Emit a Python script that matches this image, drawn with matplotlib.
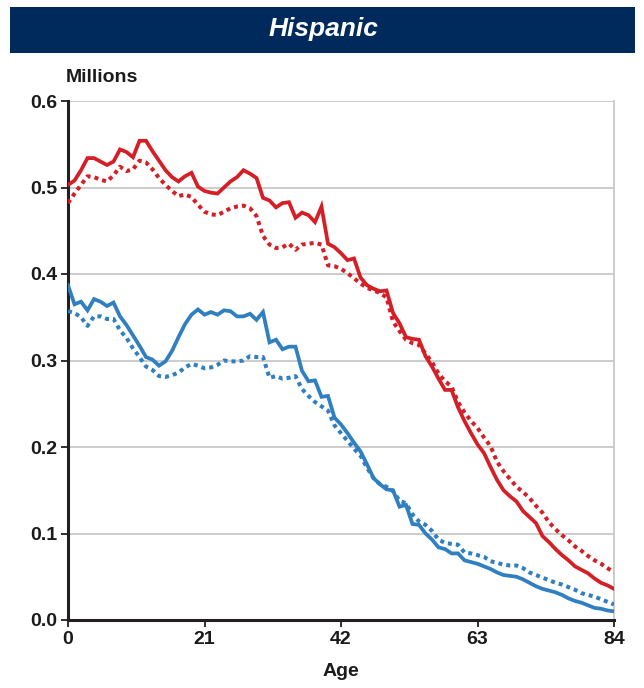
import matplotlib
matplotlib.use("Agg")
import matplotlib.pyplot as plt
from matplotlib.patches import Rectangle

ages = list(range(0, 85))

red_solid = [0.503, 0.508, 0.520, 0.534, 0.534, 0.530, 0.526, 0.530, 0.544, 0.541,
             0.535, 0.554, 0.554, 0.542, 0.531, 0.520, 0.512, 0.507, 0.513, 0.517,
             0.501, 0.496, 0.494, 0.493, 0.500, 0.507, 0.512, 0.520, 0.516, 0.511,
             0.488, 0.485, 0.477, 0.482, 0.483, 0.465, 0.471, 0.468, 0.460, 0.478,
             0.435, 0.431, 0.424, 0.416, 0.418, 0.396, 0.387, 0.383, 0.380, 0.381,
             0.355, 0.343, 0.327, 0.325, 0.324, 0.305, 0.293, 0.279, 0.266, 0.266,
             0.246, 0.230, 0.216, 0.203, 0.193, 0.177, 0.162, 0.150, 0.143, 0.137,
             0.126, 0.119, 0.112, 0.097, 0.090, 0.082, 0.075, 0.069, 0.062, 0.058,
             0.054, 0.048, 0.043, 0.040, 0.036]

red_dotted = [0.482, 0.493, 0.503, 0.513, 0.512, 0.509, 0.507, 0.514, 0.524, 0.519,
              0.521, 0.531, 0.529, 0.521, 0.511, 0.503, 0.496, 0.490, 0.492, 0.489,
              0.480, 0.472, 0.469, 0.468, 0.472, 0.476, 0.478, 0.479, 0.476, 0.467,
              0.444, 0.434, 0.430, 0.431, 0.435, 0.428, 0.434, 0.435, 0.436, 0.434,
              0.410, 0.409, 0.406, 0.401, 0.395, 0.389, 0.384, 0.381, 0.378, 0.373,
              0.345, 0.334, 0.324, 0.320, 0.318, 0.308, 0.298, 0.285, 0.276, 0.270,
              0.252, 0.240, 0.230, 0.222, 0.211, 0.201, 0.183, 0.172, 0.163, 0.154,
              0.148, 0.141, 0.132, 0.124, 0.113, 0.105, 0.098, 0.092, 0.085, 0.080,
              0.074, 0.069, 0.065, 0.060, 0.055]

blue_solid = [0.387, 0.365, 0.368, 0.358, 0.371, 0.368, 0.363, 0.367, 0.351, 0.341,
              0.329, 0.317, 0.304, 0.301, 0.294, 0.299, 0.311, 0.327, 0.342, 0.353,
              0.359, 0.353, 0.356, 0.353, 0.358, 0.357, 0.351, 0.351, 0.354, 0.347,
              0.356, 0.321, 0.324, 0.313, 0.316, 0.316, 0.288, 0.276, 0.277, 0.258,
              0.259, 0.234, 0.226, 0.216, 0.205, 0.195, 0.180, 0.164, 0.157, 0.151,
              0.150, 0.131, 0.133, 0.111, 0.110, 0.100, 0.093, 0.084, 0.082, 0.077,
              0.077, 0.069, 0.067, 0.065, 0.062, 0.059, 0.055, 0.052, 0.051, 0.050,
              0.047, 0.043, 0.039, 0.036, 0.034, 0.032, 0.029, 0.025, 0.022, 0.020,
              0.017, 0.014, 0.013, 0.011, 0.010]

blue_dotted = [0.357, 0.355, 0.350, 0.340, 0.351, 0.351, 0.348, 0.348, 0.335, 0.326,
               0.314, 0.304, 0.293, 0.289, 0.282, 0.281, 0.283, 0.286, 0.292, 0.296,
               0.294, 0.291, 0.292, 0.295, 0.300, 0.299, 0.299, 0.300, 0.305, 0.304,
               0.304, 0.280, 0.282, 0.279, 0.280, 0.282, 0.267, 0.259, 0.252, 0.247,
               0.242, 0.225, 0.216, 0.207, 0.198, 0.190, 0.176, 0.164, 0.157, 0.154,
               0.149, 0.138, 0.135, 0.122, 0.114, 0.110, 0.103, 0.093, 0.089, 0.088,
               0.087, 0.078, 0.077, 0.075, 0.073, 0.068, 0.066, 0.064, 0.063, 0.063,
               0.060, 0.055, 0.052, 0.049, 0.046, 0.043, 0.041, 0.038, 0.035, 0.031,
               0.029, 0.027, 0.024, 0.021, 0.018]

x_ticks = [0, 21, 42, 63, 84]
y_ticks = [0.0, 0.1, 0.2, 0.3, 0.4, 0.5, 0.6]
title = "Hispanic"
y_label = "Millions"
x_label = "Age"

RED = "#d51f26"
BLUE = "#2f7fc1"
NAVY = "#002a5c"
AXIS = "#231f20"

plt.rcParams['font.family'] = ['Liberation Sans', 'DejaVu Sans']

fig = plt.figure(figsize=(6.44, 6.88), dpi=100)
fig.patches.append(Rectangle((10 / 644, 1 - 53 / 688), 625 / 644, 46 / 688,
                             transform=fig.transFigure, facecolor=NAVY,
                             edgecolor='none', zorder=0))
fig.text(323 / 644, 1 - 29 / 688, title, color='white', fontsize=19,
         fontweight='bold', fontstyle='italic', ha='center', va='center')

ax = fig.add_axes([68 / 644, 1 - 620 / 688, 546 / 644, 519 / 688])

ax.plot(ages, red_dotted, color=RED, lw=2.9, linestyle=(0, (1.0, 1.0)), zorder=3)
ax.plot(ages, red_solid, color=RED, lw=2.7, zorder=4, solid_joinstyle='miter')
ax.plot(ages, blue_dotted, color=BLUE, lw=2.9, linestyle=(0, (1.0, 1.0)), zorder=3)
ax.plot(ages, blue_solid, color=BLUE, lw=2.7, zorder=4, solid_joinstyle='miter')

ax.set_xlim(0, 84)
ax.set_ylim(0, 0.6)
ax.set_xticks(x_ticks)
ax.set_xticklabels([str(t) for t in x_ticks])
ax.set_yticks(y_ticks)
ax.set_yticklabels([f"{t:.1f}" for t in y_ticks])
ax.grid(axis='y', color='#c8c8c8', lw=1.3, zorder=1)
ax.set_axisbelow(True)

for s in ['left', 'bottom']:
    ax.spines[s].set_color(AXIS)
    ax.spines[s].set_linewidth(2.2)
ax.spines['top'].set_visible(False)
ax.spines['right'].set_color('#c8c8c8')
ax.spines['right'].set_linewidth(1.3)

ax.tick_params(axis='both', direction='out', length=5, width=1.3, color=AXIS,
               labelsize=14, pad=3, labelcolor='#1a1a1a')
for lab in ax.get_xticklabels() + ax.get_yticklabels():
    lab.set_fontweight('bold')

ax.set_xlabel(x_label, fontsize=14, fontweight='bold', labelpad=11, color='#1a1a1a')
fig.text(66 / 644, 1 - 78 / 688, y_label, fontsize=14, fontweight='bold',
         ha='left', va='center', color='#1a1a1a')

fig.savefig("out.png", dpi=100)
